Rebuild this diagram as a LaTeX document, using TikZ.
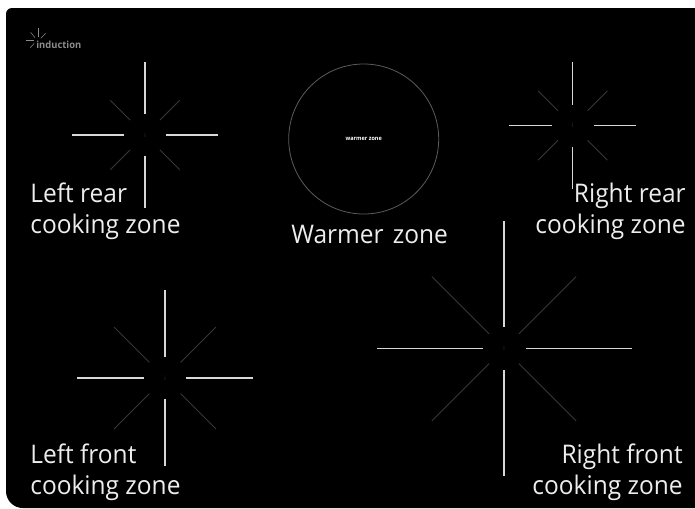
\documentclass[tikz,border=0pt]{standalone}
\usepackage{fontspec}
\setmainfont[FakeStretch=0.955]{Open Sans}
\usetikzlibrary{calc}
\definecolor{spoke}{HTML}{D8D8D8}
\definecolor{ray}{HTML}{383838}
\definecolor{rim}{HTML}{5C5C5C}
\definecolor{logo}{HTML}{8C8C8C}
\definecolor{zonegray}{HTML}{EDEDED}
\tikzset{
  zonetext/.style={zonegray, font=\fontsize{14.6}{17.4}\selectfont, inner sep=0pt, align=left},
  spokeline/.style={spoke, line width=0.6pt},
  rayline/.style={ray, line width=0.45pt},
  logoline/.style={logo, line width=0.3pt},
}
% centre, inner gap, half length, ray start, ray end
\newcommand{\hobzone}[5]{
  \foreach \ang in {0,90,180,270}
    \draw[spokeline] ($(#1)+(\ang:#2)$) -- ($(#1)+(\ang:#3)$);
  \foreach \ang in {45,135,225,315}
    \draw[rayline] ($(#1)+(\ang:#4)$) -- ($(#1)+(\ang:#5)$);
  \node[ray, font=\fontsize{3.5}{4}\selectfont, inner sep=0pt] at (#1) {i};
}
\begin{document}
\begin{tikzpicture}[x=0.02cm, y=-0.02cm]
  \useasboundingbox (0,0) rectangle (695,508);
  \fill[white] (0,0) rectangle (695,508);
  \fill[black] [rounded corners=3.4pt] (695,8) -- (6,8) [rounded corners=9.6pt] -- (6,508) [sharp corners] -- (695,508) -- cycle;

  % logo
  \draw[logoline] (38.3,28) -- (38.3,36.7);
  \draw[logoline] (30.7,32.3) -- (35,37.7);
  \draw[logoline] (45.7,33.3) -- (40.7,38.3);
  \draw[logoline] (25.7,40.3) -- (34,40.3);
  \draw[logoline] (30,47.7) -- (34.3,43.3);
  \node[logo, anchor=west, inner sep=0pt, font=\fontsize{5.6}{6}\selectfont\bfseries] (brand) at (36,44.5) {induction};

  % cooking zones
  \hobzone{145,135}{21}{73}{21}{49}
  \hobzone{572.7,125.5}{21}{63.5}{21}{49}
  \hobzone{165,378}{21}{88}{22}{72}
  \hobzone{504,348.7}{21.5}{127.5}{21}{102}

  % warmer zone
  \draw[rim, line width=0.45pt] (363.7,139) circle (75);
  \node[white, font=\fontsize{3.3}{4}\selectfont\bfseries, inner sep=0pt] (warmlabel) at (363.7,138.5) {warmer zone};

  \node[zonetext, anchor=base west] (leftrear) at (30,202) {Left rear};
  \node[zonetext, anchor=base west] (leftrearb) at (30,233) {cooking zone};
  \node[zonetext, anchor=base west] (warmer) at (291,243) {Warmer\hspace{1.6pt} zone};
  \node[zonetext, anchor=base east] (rightrear) at (686,202) {Right rear};
  \node[zonetext, anchor=base east] (rightrearb) at (686,233) {cooking zone};
  \node[zonetext, anchor=base west] (leftfront) at (30,463) {Left front};
  \node[zonetext, anchor=base west] (leftfrontb) at (30,494) {cooking zone};
  \node[zonetext, anchor=base east] (rightfront) at (683,463) {Right front};
  \node[zonetext, anchor=base east] (rightfrontb) at (683,494) {cooking zone};
\end{tikzpicture}
\end{document}
